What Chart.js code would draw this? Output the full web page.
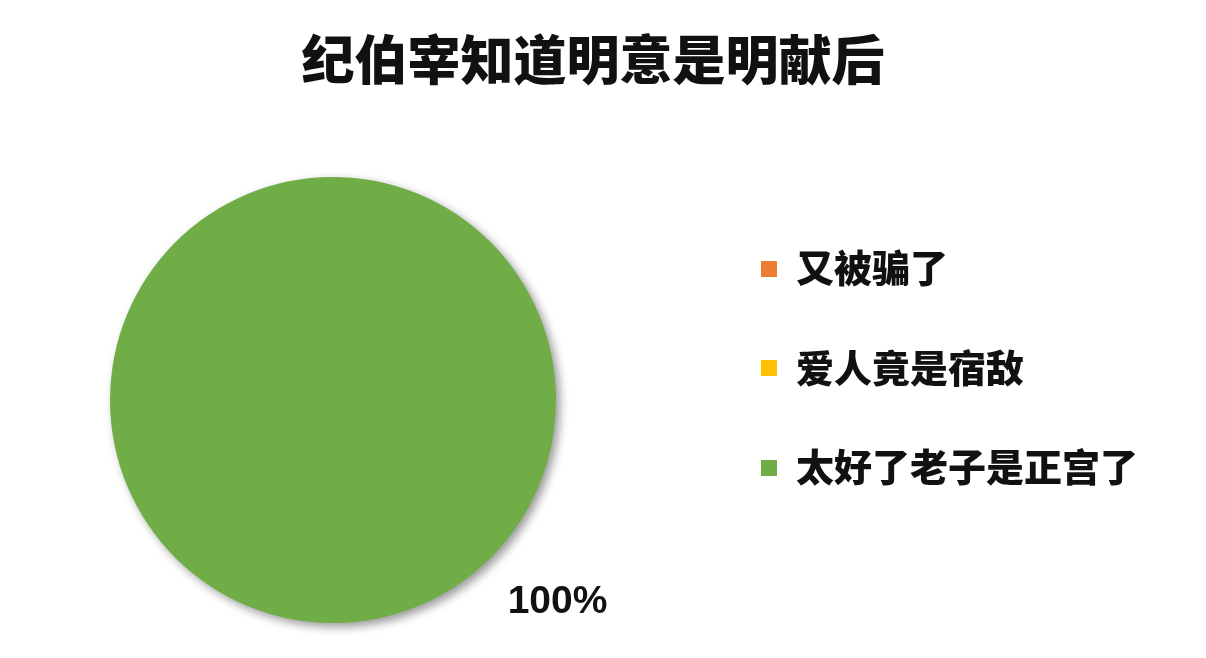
<!DOCTYPE html>
<html>
<head>
<meta charset="utf-8">
<script src="https://cdn.jsdelivr.net/npm/chart.js@4/dist/chart.umd.min.js"></script>
<style>
  html, body { margin: 0; padding: 0; background: #fff; }
  body { width: 1206px; height: 658px; position: relative; overflow: hidden;
         font-family: "Noto Sans CJK SC", "Noto Sans", sans-serif; }
  #wrap { position: absolute; left: 0; top: 0; width: 1206px; height: 658px; }
  #title { position: absolute; left: 0; top: 21px; width: 1186px; text-align: center;
           font-size: 53px; font-weight: 900; color: #111; line-height: 72px; letter-spacing: 0px; }
  .lg { position: absolute; left: 761px; height: 56px; line-height: 56px; white-space: nowrap;
        font-size: 38px; font-weight: 900; color: #111; }
  .lg i { display: inline-block; width: 16px; height: 16px; margin-right: 19px; vertical-align: middle; position: relative; top: -3px; }
</style>
</head>
<body>
<div id="wrap"><canvas id="c"></canvas></div>
<div id="title"></div>
<div id="legend"></div>
<script>
const titleText = "纪伯宰知道明意是明献后";
const categories = ["又被骗了", "爱人竟是宿敌", "太好了老子是正宫了"];
const values = [0, 0, 100];
const colors = ["#ED7D31", "#FFC000", "#70AD47"];
const labelText = "100%";

document.getElementById('title').textContent = titleText;
const lg = document.getElementById('legend');
categories.forEach((c, i) => {
  const d = document.createElement('div');
  d.className = 'lg';
  d.style.top = (238 + i * 99.5) + 'px';
  const sw = document.createElement('i');
  sw.style.background = colors[i];
  d.appendChild(sw);
  d.appendChild(document.createTextNode(c));
  lg.appendChild(d);
});

const shadowPlugin = {
  id: 'shadow',
  beforeDatasetsDraw(chart) {
    const ctx = chart.ctx;
    ctx.save();
    ctx.shadowColor = 'rgba(0,0,0,0.4)';
    ctx.shadowBlur = 10;
    ctx.shadowOffsetX = 4;
    ctx.shadowOffsetY = 4;
  },
  afterDatasetsDraw(chart) {
    chart.ctx.restore();
    const ctx = chart.ctx;
    const meta = chart.getDatasetMeta(0);
    meta.data.forEach((arc, i) => {
      if (!values[i]) return;
      const p = arc.getProps(['x', 'y', 'startAngle', 'endAngle', 'outerRadius'], true);
      const a = (p.startAngle + p.endAngle) / 2;
      const r = p.outerRadius * 1.355;
      ctx.save();
      ctx.fillStyle = '#111';
      ctx.font = '700 39px "Liberation Sans", "Noto Sans", sans-serif';
      ctx.textAlign = 'center';
      ctx.textBaseline = 'middle';
      ctx.fillText(labelText, p.x + Math.cos(a) * r, p.y + Math.sin(a) * r);
      ctx.restore();
    });
  }
};

new Chart(document.getElementById('c'), {
  type: 'pie',
  data: {
    labels: categories,
    datasets: [{ data: values, backgroundColor: colors, borderWidth: 0, hoverOffset: 0 }]
  },
  options: {
    responsive: true,
    maintainAspectRatio: false,
    animation: false,
    rotation: -48,
    layout: { padding: { left: 110, right: 650, top: 177, bottom: 35 } },
    plugins: { legend: { display: false }, tooltip: { enabled: false }, title: { display: false } }
  },
  plugins: [shadowPlugin]
});
</script>
</body>
</html>
